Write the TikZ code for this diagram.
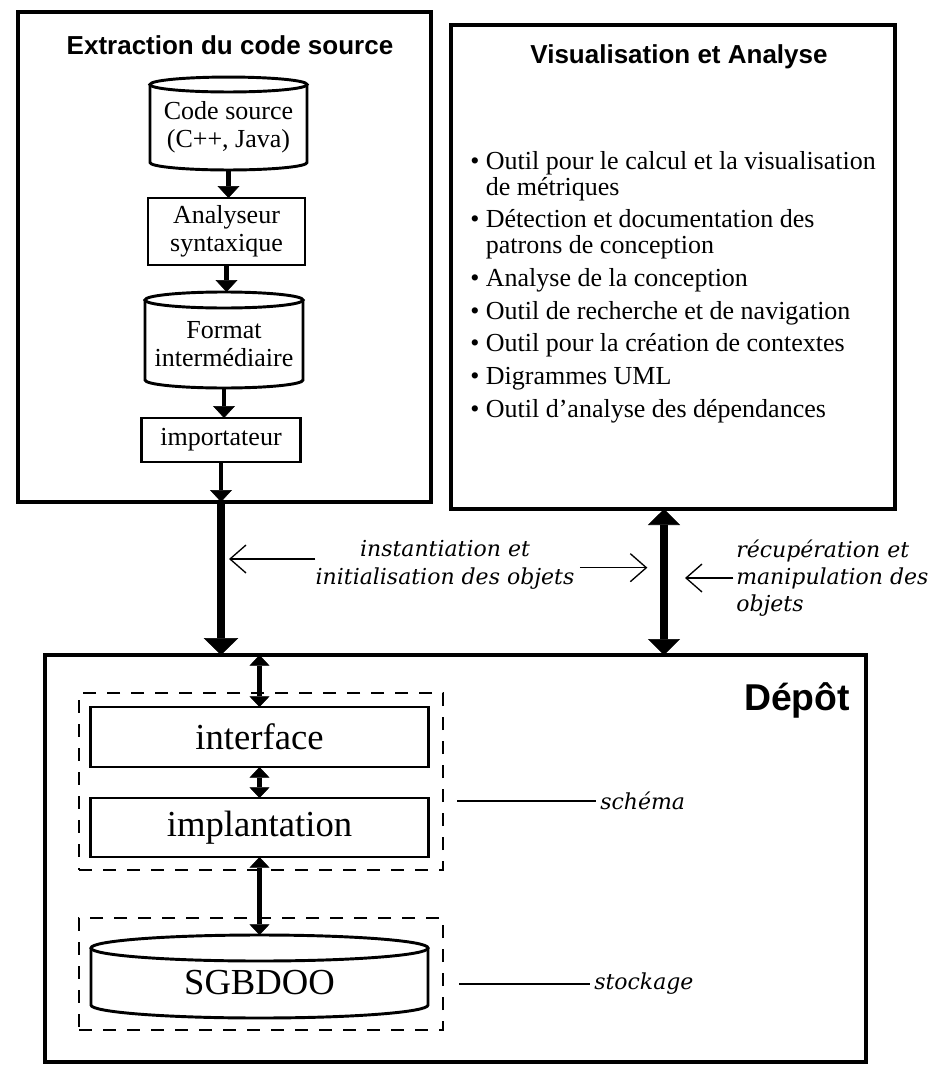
\documentclass[tikz,border=0pt]{standalone}
\usepackage{fontspec}
\setmainfont{Liberation Serif}
\newfontfamily\headfont{Liberation Sans}
\newfontfamily\notefont{DejaVu Serif}
\usetikzlibrary{arrows.meta,calc}

% drum (database) outline around a node whose north edge is the centre of the lid
\newcommand{\drawdrum}[3]{%
  \draw[drumline] (#1.north west) -- ($(#1.south west)+(0,#3)$)
    arc[start angle=180, end angle=360, x radius=#2, y radius=#3]
    -- (#1.north east);
  \draw[drumline] (#1.north) ellipse[x radius=#2, y radius=#3];
}

\begin{document}
\begin{tikzpicture}[x=0.75pt,y=-0.75pt,
  frame/.style={draw, line width=3pt, inner sep=0pt, outer sep=0pt},
  stage/.style={draw, line width=2.2pt, inner sep=0pt, outer sep=0pt, align=center,
    font=\fontsize{19.5}{21}\selectfont},
  drumbody/.style={inner sep=0pt, outer sep=0pt, align=center,
    font=\fontsize{19.5}{21}\selectfont},
  drumline/.style={line width=2.2pt},
  layer/.style={draw, line width=2.2pt, inner sep=0pt, outer sep=0pt,
    font=\fontsize{27.5}{30}\selectfont},
  group/.style={draw, line width=1.5pt, dash pattern=on 10pt off 8pt, inner sep=0pt, outer sep=0pt},
  heading/.style={inner sep=0pt, font=\headfont\bfseries\fontsize{19.5}{22}\selectfont},
  note/.style={inner sep=0pt, font=\notefont\itshape\fontsize{16.5}{20.5}\selectfont},
  listtext/.style={inner sep=0pt, align=left, font=\fontsize{19.5}{19.5}\selectfont},
  flow/.style={line width=3.5pt, -{Triangle[length=9pt,width=16.5pt,line width=0.4pt]}},
  bigflow/.style={line width=6pt, -{Triangle[length=12.75pt,width=26pt,line width=0.4pt]}},
  bigdual/.style={line width=6pt, {Triangle[length=12pt,width=24pt,line width=0.4pt]}-{Triangle[length=12pt,width=24pt,line width=0.4pt]}},
  dual/.style={line width=3.2pt, {Triangle[length=8pt,width=15pt,line width=0.4pt]}-{Triangle[length=8pt,width=15pt,line width=0.4pt]}},
  pointer/.style={line width=1pt, -{Straight Barb[length=12pt,width=21pt]}},
  leader/.style={line width=1.2pt, shorten >=3pt}
]
\useasboundingbox (0,0) rectangle (945,1077);
\fill[white] (0,0) rectangle (945,1077);

% ---------- source code extraction ----------
\node[frame, minimum width=309.75pt, minimum height=367.5pt] (extract) at (224.5,257) {};
\node[heading] (extract-title) at (230,45) {Extraction du code source};

\node[drumbody, minimum width=117.75pt, minimum height=64.1pt] (src) at (228.5,127.25) {Code source\\(C++, Java)};
\drawdrum{src}{58.875pt}{5.6pt}
\coordinate (src-top) at ($(src.north)+(0,5.6pt)$);

\node[stage, minimum width=117.75pt, minimum height=50.25pt] (ana) at (226.5,231.5) {Analyseur\\syntaxique};

\node[drumbody, minimum width=118.5pt, minimum height=66pt] (fmt) at (224,344) {Format\\intermédiaire};
\drawdrum{fmt}{59.25pt}{6pt}
\coordinate (fmt-top) at ($(fmt.north)+(0,6pt)$);

\node[stage, minimum width=119.25pt, minimum height=33pt] (imp) at (221,440) {importateur};

\draw[flow] (src.south) -- (src.south |- ana.north);
\draw[flow] (ana.south) -- (ana.south |- fmt-top);
\draw[flow] (fmt.south) -- (fmt.south |- imp.north);
\draw[flow] (imp.south) -- (imp.south |- extract.south);

% ---------- visualisation and analysis ----------
\node[frame, minimum width=333pt, minimum height=363pt] (visu) at (673,267) {};
\node[heading] (visu-title) at (679,57) {Visualisation et Analyse};
\node[listtext, anchor=north west] (tools) at (470,151) {%
\textbullet\ Outil pour le calcul et la visualisation\\
\hphantom{\textbullet\ }de métriques\\[5pt]
\textbullet\ Détection et documentation des\\
\hphantom{\textbullet\ }patrons de conception\\[5pt]
\textbullet\ Analyse de la conception\\[5pt]
\textbullet\ Outil de recherche et de navigation\\[5pt]
\textbullet\ Outil pour la création de contextes\\[5pt]
\textbullet\ Digrammes UML\\[5pt]
\textbullet\ Outil d'analyse des dépendances};

% ---------- repository ----------
\node[frame, line width=3.5pt, minimum width=615.75pt, minimum height=305.25pt] (depot) at (455.5,858.5) {};
\node[inner sep=0pt, font=\headfont\bfseries\fontsize{28}{30}\selectfont] (depot-title) at (797,700) {Dépôt};

\node[group, minimum width=273pt, minimum height=132.75pt] (schema) at (261,781.5) {};
\node[group, minimum width=273pt, minimum height=84pt] (stock) at (261,974) {};

\node[layer, minimum width=253.5pt, minimum height=45pt] (iface) at (259.5,737) {interface};
\node[layer, minimum width=253.5pt, minimum height=44.25pt] (impl) at (259.5,827.5) {implantation};
\node[drumbody, font=\fontsize{27.5}{30}\selectfont, minimum width=252.75pt, minimum height=52.5pt] (sgbd) at (259.5,983) {SGBDOO};
\drawdrum{sgbd}{126.375pt}{9.75pt}
\coordinate (sgbd-top) at ($(sgbd.north)+(0,9.75pt)$);

\draw[dual] (iface.north |- depot.north) -- (iface.north);
\draw[dual] (iface.south) -- (impl.north);
\draw[dual] (impl.south) -- (sgbd-top);

\node[note, anchor=west] (schema-label) at (600,801) {schéma};
\coordinate (schema-tail) at ($(schema.east |- schema-label.west)+(10.5pt,0)$);
\draw[leader] (schema-tail) -- (schema-label.west);

\node[note, anchor=west] (stock-label) at (594,984) {stockage};
\coordinate (stock-tail) at ($(stock.east |- stock-label.west)+(12pt,0)$);
\draw[leader] (stock-tail) -- (stock-label.west);

% ---------- exchanges with the repository ----------
\draw[bigflow] (imp.south |- extract.south) -- (imp.south |- depot.north);

\coordinate (link) at (664,509);
\draw[bigdual] (link) -- (link |- depot.north);

\node[note, align=center] (inst) at (445,565) {instantiation et\\initialisation des objets};
\draw[pointer] ($(inst.west)+(0,4.5pt)$) -- ($(inst.west -| imp.south)+(6pt,4.5pt)$);
\draw[pointer] ($(inst.east)+(4pt,-2pt)$) -- ($(inst.east -| link)+(-12.5pt,-2pt)$);

\node[note, align=left, anchor=west] (recup) at (736,578) {récupération et\\manipulation des\\objets};
\draw[pointer] ($(recup.west)+(-2pt,0)$) -- ($(recup.west -| link)+(15.75pt,0)$);

\end{tikzpicture}
\end{document}
